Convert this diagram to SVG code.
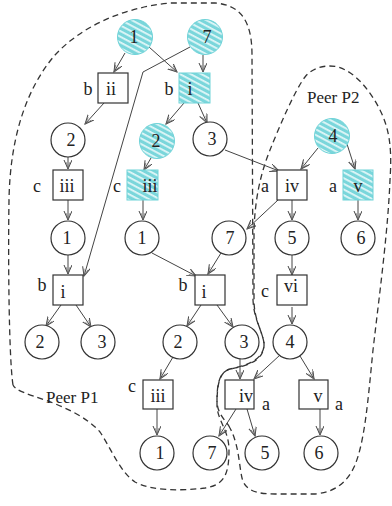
<svg xmlns="http://www.w3.org/2000/svg" width="392" height="506" viewBox="0 0 392 506">
<style>
.n{fill:#fff;stroke:#333;stroke-width:1.2}
.h{fill:url(#hatch);stroke:#6fd3d8;stroke-width:1}
.t{font-family:"Liberation Serif","Times New Roman",serif;font-size:18px;fill:#222;text-anchor:middle}
.l{font-family:"Liberation Serif","Times New Roman",serif;font-size:18px;fill:#222;text-anchor:middle}
.p{font-family:"Liberation Serif","Times New Roman",serif;font-size:17px;fill:#222}
.e{fill:none;stroke:#444;stroke-width:1;marker-end:url(#ah)}
.d{fill:none;stroke:#333;stroke-width:1.3;stroke-dasharray:6 4}
</style>
<defs>
<pattern id="hatch" patternUnits="userSpaceOnUse" width="5" height="5" patternTransform="rotate(28)">
<rect width="5" height="5" fill="#7ad6db"/>
<rect y="0" width="5" height="1.8" fill="#e2f7f8"/>
</pattern>
<marker id="ah" markerUnits="userSpaceOnUse" markerWidth="12" markerHeight="10" refX="9" refY="4" orient="auto">
<path d="M0,0 L9,4 L0,8" fill="none" stroke="#444" stroke-width="1"/>
<path d="M2,2 L9,4 L2,6" fill="none" stroke="#666" stroke-width="0.7"/>
</marker>
</defs>
<rect width="392" height="506" fill="#fff"/>
<g id="regions">
<path class="d" d="M13,385 C9,360 8,260 9,200 C10,140 25,90 55,55 C80,28 120,8 170,3 L215,3 C240,5 252,20 252,55 L253,300 C254,320 262,330 264,343 C265,360 245,366 230,369 C219,372 217,385 217,405 C217,420 229,430 229,450 C229,475 224,485 205,488 C180,491 152,491 135,482 C120,472 112,450 100,432 C88,418 65,407 45,400 C28,394 16,391 13,385"/>
<path class="d" d="M230,428 C226,420 217,415 217,400 C217,385 219,372 230,369 C245,366 265,362 264,343 C262,330 254,320 254,300 L254,230 C255,200 260,175 270,150 C280,125 295,90 305,77 C312,68 325,64 338,67 C355,72 370,90 380,110 C390,130 392,150 390,180 C388,230 380,290 373,350 C368,400 365,440 355,465 C347,483 335,492 315,494 L275,494 C255,494 245,490 242,478 C239,465 239,445 230,428 Z"/>
<text class="p" x="46" y="403">Peer P1</text>
<text class="p" x="307" y="103">Peer P2</text>
</g>
<g id="connectors">
<path class="e" d="M125,53 L114,72"/>
<path class="e" d="M149,47 L177,72"/>
<path class="e" d="M203,55 L203,72"/>
<path class="e" d="M190,47 L143,72 L84,276"/>
<path class="e" d="M104,103 L85,124"/>
<path class="e" d="M68,157 L68,169"/>
<path class="e" d="M184,103 L166,124"/>
<path class="e" d="M198,103 L207,123"/>
<path class="e" d="M151,158 L144,170"/>
<path class="e" d="M225,150 L279,171"/>
<path class="e" d="M318,148 L301,169"/>
<path class="e" d="M347,144 L355,169"/>
<path class="e" d="M68,200 L68,220"/>
<path class="e" d="M143,200 L143,220"/>
<path class="e" d="M278,200 L247,229"/>
<path class="e" d="M292,200 L292,220"/>
<path class="e" d="M358,200 L358,220"/>
<path class="e" d="M68,255 L68,274"/>
<path class="e" d="M152,253 L196,276"/>
<path class="e" d="M221,253 L208,274"/>
<path class="e" d="M292,255 L292,275"/>
<path class="e" d="M292,307 L292,324"/>
<path class="e" d="M61,305 L46,326"/>
<path class="e" d="M76,305 L91,327"/>
<path class="e" d="M201,305 L187,326"/>
<path class="e" d="M217,305 L233,327"/>
<path class="e" d="M173,357 L160,379"/>
<path class="e" d="M240,359 L240,379"/>
<path class="e" d="M280,355 L254,379"/>
<path class="e" d="M300,356 L314,379"/>
<path class="e" d="M157,409 L157,435"/>
<path class="e" d="M236,409 L219,436"/>
<path class="e" d="M247,409 L255,436"/>
<path class="e" d="M320,409 L320,435"/>
</g>
<g id="n-c1top"><circle class="h" cx="135" cy="37" r="17.5"/><text class="t" x="134" y="43">1</text></g>
<g id="n-c7top"><circle class="h" cx="205" cy="37" r="17.5"/><text class="t" x="207" y="43">7</text></g>
<g id="n-ii"><rect class="n" x="98" y="73" width="30" height="30"/><text class="t" x="111" y="95">ii</text><text class="l" x="88" y="95">b</text></g>
<g id="n-i-cyan"><rect class="h" x="179" y="73" width="31" height="30"/><text class="t" x="190" y="95">i</text><text class="l" x="169" y="95">b</text></g>
<g id="n-c2a"><circle class="n" cx="68" cy="140" r="17"/><text class="t" x="71" y="146">2</text></g>
<g id="n-c2cyan"><circle class="h" cx="157" cy="141" r="17.5"/><text class="t" x="156" y="147">2</text></g>
<g id="n-c3a"><circle class="n" cx="210" cy="139" r="17"/><text class="t" x="212" y="145">3</text></g>
<g id="n-c4cyan"><circle class="h" cx="332" cy="136" r="17.5"/><text class="t" x="333" y="142">4</text></g>
<g id="n-iii-a"><rect class="n" x="53" y="170" width="30" height="30"/><text class="t" x="67" y="192">iii</text><text class="l" x="37" y="192">c</text></g>
<g id="n-iii-cyan"><rect class="h" x="127" y="170" width="31" height="30"/><text class="t" x="150" y="192">iii</text><text class="l" x="117" y="192">c</text></g>
<g id="n-iv-a"><rect class="n" x="277" y="170" width="30" height="30"/><text class="t" x="292" y="192">iv</text><text class="l" x="265" y="192">a</text></g>
<g id="n-v-cyan"><rect class="h" x="343" y="170" width="30" height="30"/><text class="t" x="358" y="192">v</text><text class="l" x="333" y="192">a</text></g>
<g id="n-c1a"><circle class="n" cx="68" cy="238" r="17"/><text class="t" x="67" y="244">1</text></g>
<g id="n-c1b"><circle class="n" cx="142" cy="238" r="17"/><text class="t" x="142" y="244">1</text></g>
<g id="n-c7a"><circle class="n" cx="229" cy="238" r="17"/><text class="t" x="230" y="244">7</text></g>
<g id="n-c5a"><circle class="n" cx="292" cy="238" r="17"/><text class="t" x="292" y="244">5</text></g>
<g id="n-c6a"><circle class="n" cx="358" cy="238" r="17"/><text class="t" x="361" y="244">6</text></g>
<g id="n-i-a"><rect class="n" x="53" y="275" width="30" height="30"/><text class="t" x="63" y="298">i</text><text class="l" x="42" y="291">b</text></g>
<g id="n-i-b"><rect class="n" x="195" y="275" width="30" height="30"/><text class="t" x="204" y="298">i</text><text class="l" x="183" y="291">b</text></g>
<g id="n-vi"><rect class="n" x="277" y="275" width="30" height="30"/><text class="t" x="291" y="292">vi</text><text class="l" x="265" y="297">c</text></g>
<g id="n-c2b"><circle class="n" cx="42" cy="342" r="17"/><text class="t" x="40" y="348">2</text></g>
<g id="n-c3b"><circle class="n" cx="98" cy="342" r="17"/><text class="t" x="102" y="348">3</text></g>
<g id="n-c2c"><circle class="n" cx="180" cy="342" r="17"/><text class="t" x="178" y="348">2</text></g>
<g id="n-c3c"><circle class="n" cx="242" cy="342" r="17"/><text class="t" x="244" y="348">3</text></g>
<g id="n-c4b"><circle class="n" cx="290" cy="342" r="17"/><text class="t" x="290" y="348">4</text></g>
<g id="n-iii-b"><rect class="n" x="143" y="380" width="30" height="29"/><text class="t" x="158" y="402">iii</text><text class="l" x="132" y="392">c</text></g>
<g id="n-iv-b"><rect class="n" x="225" y="380" width="29" height="29"/><text class="t" x="246" y="402">iv</text><text class="l" x="266" y="410">a</text></g>
<g id="n-v-b"><rect class="n" x="299" y="380" width="29" height="29"/><text class="t" x="318" y="402">v</text><text class="l" x="339" y="410">a</text></g>
<g id="n-c1c"><circle class="n" cx="157" cy="453" r="17"/><text class="t" x="160" y="459">1</text></g>
<g id="n-c7b"><circle class="n" cx="210" cy="453" r="17"/><text class="t" x="212" y="459">7</text></g>
<g id="n-c5b"><circle class="n" cx="262" cy="453" r="17"/><text class="t" x="265" y="459">5</text></g>
<g id="n-c6b"><circle class="n" cx="321" cy="453" r="17"/><text class="t" x="319" y="459">6</text></g>
</svg>
